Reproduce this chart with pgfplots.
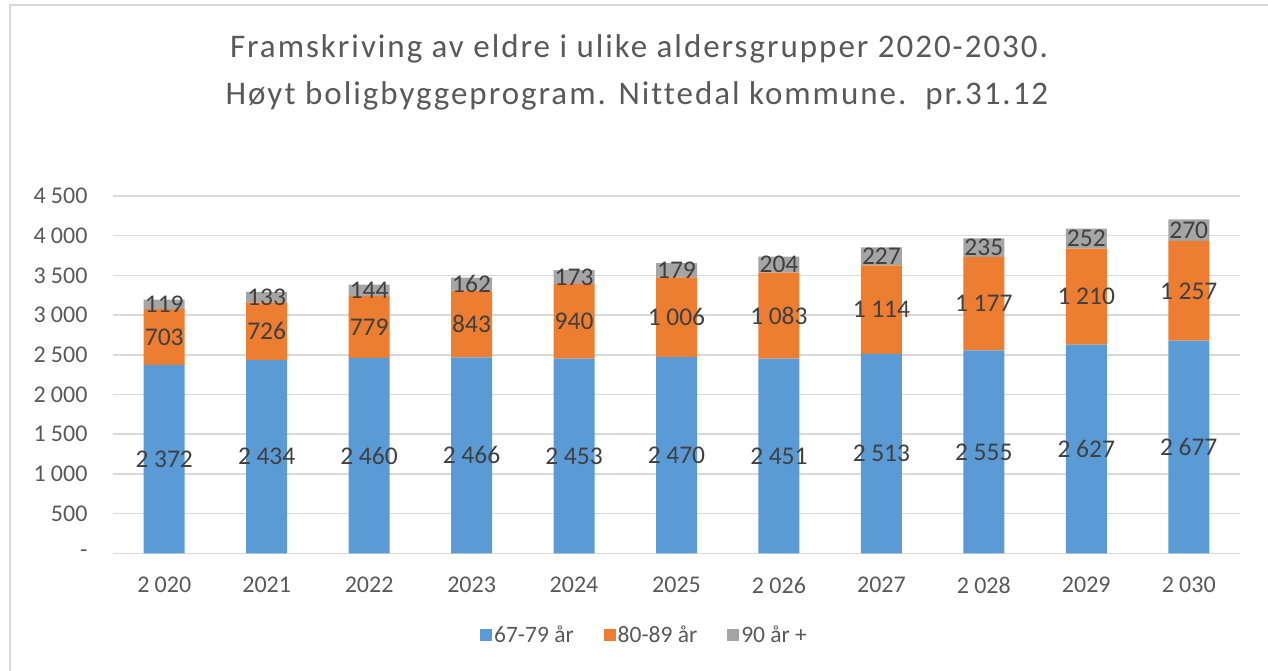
\documentclass[border=0pt]{standalone}
\usepackage{pgfplots}
\pgfplotsset{compat=1.18}
\usepackage{fontspec}
\setmainfont{Carlito}
\definecolor{cblue}{HTML}{5B9BD5}
\definecolor{corange}{HTML}{ED7D31}
\definecolor{cgray}{HTML}{A5A5A5}
\definecolor{gridc}{HTML}{D9D9D9}
\definecolor{tickc}{HTML}{595959}
\definecolor{labc}{HTML}{404040}
\begin{document}
\begin{tikzpicture}
\path[use as bounding box] (0pt,0pt) rectangle (1268pt,671pt);
\draw[gridc, line width=2pt] (10pt,0pt) -- (10pt,666pt) -- (1268pt,666pt);
\node[anchor=base, text=tickc, inner sep=0pt, font=\fontsize{33}{40}\selectfont\addfontfeatures{LetterSpace=6,Ligatures=CommonOff}] at (639pt,613pt) {Framskriving av eldre i ulike aldersgrupper 2020-2030.};
\node[anchor=base, text=tickc, inner sep=0pt, font=\fontsize{33}{40}\selectfont\addfontfeatures{LetterSpace=6,Ligatures=CommonOff}] at (637pt,566pt) {Høyt boligbyggeprogram. Nittedal kommune.\ \ pr.31.12};
\begin{axis}[
  scale only axis, width=1127pt, height=357.3pt,
  at={(113pt,117.7pt)}, anchor=south west,
  ybar stacked, bar width=41pt,
  xmin=-0.5, xmax=10.5, ymin=0, ymax=4500,
  xtick={0,...,10},
  xticklabels={2\hspace{0.22em}020,2021,2022,2023,2024,2025,2\hspace{0.22em}026,2027,2\hspace{0.22em}028,2029,2\hspace{0.22em}030},
  ytick={0,500,...,4500},
  yticklabels={-\hspace{0.5em},500,1\hspace{0.22em}000,1\hspace{0.22em}500,2\hspace{0.22em}000,2\hspace{0.22em}500,3\hspace{0.22em}000,3\hspace{0.22em}500,4\hspace{0.22em}000,4\hspace{0.22em}500},
  axis line style={draw=none}, tick style={draw=none},
  ymajorgrids, grid style={gridc, line width=1.5pt},
  ticklabel style={text=tickc, font=\fontsize{24}{29}\selectfont},
  yticklabel style={xshift=-22pt},
  xticklabel style={yshift=-20pt},
  /pgf/number format/assume math mode=true,
  /pgf/number format/1000 sep={\hspace{0.22em}},
  visualization depends on={rawy \as \rawy},
  nodes near coords={\pgfmathprintnumber{\rawy}},
  every node near coord/.append style={anchor=center, text=labc, font=\fontsize{25.5}{30}\selectfont},
  legend style={at={(0.4716,-0.229)}, anchor=center, draw=none, fill=none,
     legend columns=3, font=\fontsize{23.5}{28}\selectfont, text=tickc,
     /tikz/every even column/.append style={column sep=28pt}},
  legend image code/.code={\fill[#1] (0pt,-6pt) rectangle (12pt,6pt);},
]
\addplot[fill=cblue, draw=none] coordinates {(0,2372) (1,2434) (2,2460) (3,2466) (4,2453) (5,2470) (6,2451) (7,2513) (8,2555) (9,2627) (10,2677)};
\addlegendentry{67-79 år}
\addplot[fill=corange, draw=none] coordinates {(0,703) (1,726) (2,779) (3,843) (4,940) (5,1006) (6,1083) (7,1114) (8,1177) (9,1210) (10,1257)};
\addlegendentry{80-89 år}
\addplot[fill=cgray, draw=none] coordinates {(0,119) (1,133) (2,144) (3,162) (4,173) (5,179) (6,204) (7,227) (8,235) (9,252) (10,270)};
\addlegendentry{90 år +}
\end{axis}
\end{tikzpicture}
\end{document}
